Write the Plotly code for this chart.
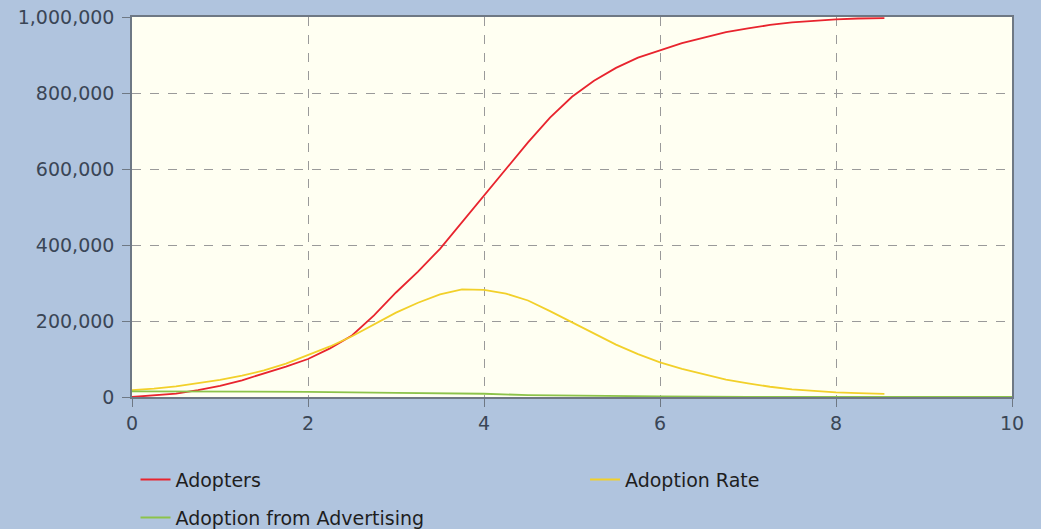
import plotly.graph_objects as go

time = [0, 0.25, 0.5, 0.75, 1, 1.25, 1.5, 1.75, 2, 2.25, 2.5, 2.75, 3, 3.25, 3.5, 3.75, 4,
        4.25, 4.5, 4.75, 5, 5.25, 5.5, 5.75, 6, 6.25, 6.5, 6.75, 7, 7.25, 7.5, 7.75, 8, 8.25, 8.55]
adopters = [0, 4000, 9000, 18000, 29000, 44000, 61000, 80000, 100000, 128000, 162000, 215000, 275000,
            330000, 390000, 460000, 528000, 600000, 670000, 735000, 790000, 832000, 866000, 893000,
            913000, 931000, 946000, 960000, 970000, 979000, 986000, 990000, 994000, 996000, 997000]
adoption_rate = [18000, 22000, 28000, 36000, 45000, 56000, 70000, 88000, 110000, 133000, 160000, 190000,
                 222000, 248000, 270000, 283000, 282000, 272000, 254000, 226000, 196000, 166000, 138000,
                 113000, 91000, 74000, 59000, 46000, 36000, 27000, 20000, 16000, 12000, 10000, 8000]
adv_time = [0, 1, 2, 3, 3.2, 4, 4.5, 5, 6, 7, 8, 9, 10]
adoption_adv = [15000, 14600, 13500, 11000, 10500, 8500, 5000, 3200, 1500, 500, 100, 50, 30]

fig = go.Figure()
fig.add_trace(go.Scatter(x=time, y=adopters, mode="lines", name="Adopters",
                         line=dict(color="#E8242E", width=1.8), legend="legend"))
fig.add_trace(go.Scatter(x=time, y=adoption_rate, mode="lines", name="Adoption Rate",
                         line=dict(color="#F2D02A", width=1.8), legend="legend3"))
fig.add_trace(go.Scatter(x=adv_time, y=adoption_adv, mode="lines", name="Adoption from Advertising",
                         line=dict(color="#8CC34A", width=1.8), legend="legend2"))

axis_color = "#6e7884"
font_color = "#3a4656"
legend_font = dict(family="DejaVu Sans", size=19, color="#1e1e1e")
common_legend = dict(orientation="h", xanchor="left", yanchor="top",
                     bgcolor="rgba(0,0,0,0)", font=legend_font, itemwidth=30)
fig.update_layout(
    width=1041, height=529,
    margin=dict(l=132, r=29, t=17, b=132, autoexpand=False),
    paper_bgcolor="#B0C4DE",
    plot_bgcolor="#FFFFF2",
    font=dict(family="DejaVu Sans", size=19, color=font_color),
    showlegend=True,
    legend=dict(x=0.004, y=-0.1675, **common_legend),
    legend3=dict(x=0.5148, y=-0.1675, **common_legend),
    legend2=dict(x=0.004, y=-0.2675, **common_legend),
)
fig.update_xaxes(range=[0, 10], tickvals=[0, 2, 4, 6, 8, 10], ticks="outside", ticklen=8,
                 tickcolor=axis_color, showline=True, linecolor=axis_color, linewidth=1.5, mirror=True,
                 showgrid=True, gridcolor="#9a9a9a", griddash="dash", gridwidth=1, zeroline=False,
                 fixedrange=True)
fig.update_yaxes(range=[0, 1000000], tickvals=[0, 200000, 400000, 600000, 800000, 1000000],
                 tickformat=",d", ticks="outside", ticklen=8, tickcolor=axis_color,
                 ticklabelstandoff=4,
                 showline=True, linecolor=axis_color, linewidth=1.5, mirror=True,
                 showgrid=True, gridcolor="#9a9a9a", griddash="dash", gridwidth=1, zeroline=False,
                 fixedrange=True)

fig.write_html("out.html", config={"displayModeBar": False},
               post_script="document.body.style.margin='0';document.body.style.overflow='hidden';")
